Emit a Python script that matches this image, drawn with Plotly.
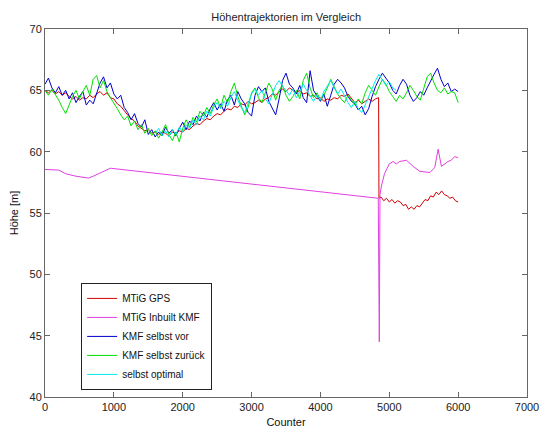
import plotly.graph_objects as go

# ---------------- data ----------------
step_x = list(range(0, 6001, 50))

kmf_vor = [65.5, 66.0, 65.2, 64.8, 65.3, 64.6, 65.0, 64.3, 64.8, 64.0,
           64.5, 64.9, 63.8, 64.2, 63.9, 64.8, 65.6, 66.1, 65.2, 65.6,
           64.7, 64.3, 64.6, 63.6, 63.2, 62.6, 63.1, 62.3, 62.0, 62.6,
           61.4, 61.8, 61.2, 61.6, 61.3, 62.0, 61.5, 61.8, 61.3, 61.9,
           62.4, 61.8, 62.5, 62.2, 62.9, 62.5, 63.2, 62.8, 63.5, 64.0,
           63.4, 63.9, 63.3, 64.2, 64.6, 63.8, 64.9, 64.3, 63.9, 63.2,
           62.9, 64.6, 65.3, 64.9, 65.2, 64.1, 63.6, 63.0, 64.3, 65.8,
           66.4, 65.5, 65.2, 64.7, 65.4, 64.4, 64.0, 66.6, 65.0, 64.5,
           64.1, 64.7, 63.7, 64.6, 65.5, 65.9, 65.6, 65.2, 64.5, 64.1,
           63.9, 63.4, 63.7, 63.0, 63.5, 64.5, 65.3, 65.9, 66.4, 66.0,
           65.6, 65.0, 64.7, 65.4, 65.9, 65.5, 64.6, 64.1, 64.4, 64.9,
           64.6, 65.2, 65.8, 66.3, 66.8, 65.9, 65.3, 65.6, 64.9, 65.1,
           64.9]

kmf_zurueck = [65.0, 64.6, 65.1, 64.7, 64.2, 63.6, 63.1, 63.8, 64.5, 65.0,
               64.3, 64.9, 65.4, 64.6, 65.9, 66.2, 65.2, 65.8, 64.9, 64.4,
               64.0, 63.5, 63.0, 62.6, 62.9, 62.1, 62.5, 61.8, 62.2, 61.5,
               61.9, 61.3, 61.7, 61.1, 61.6, 62.2, 61.4, 60.9, 61.6, 60.8,
               61.9, 62.6, 62.0, 62.8, 62.4, 63.3, 62.9, 63.6, 63.1, 63.8,
               64.3, 63.6, 64.6, 64.0, 64.9, 65.6, 64.5, 63.8, 63.0, 63.6,
               64.8, 65.2, 64.4, 64.0, 64.9, 65.6, 65.1, 64.2, 65.0, 65.4,
               64.6, 64.1, 64.5, 65.0, 64.3, 65.8, 66.4, 65.2, 64.4, 64.8,
               64.2, 64.6, 65.2, 65.9, 65.3, 64.7, 64.3, 64.0, 64.6, 64.2,
               63.8, 64.3, 63.9, 64.8, 65.4, 65.0, 64.6, 65.3, 65.9, 65.5,
               64.9, 64.5, 64.1, 64.6, 64.3, 64.8, 65.4, 65.0, 64.5, 64.2,
               65.1, 66.1, 66.4, 65.6, 65.0, 64.8, 65.2, 64.7, 64.9, 64.8,
               64.0]

opt_x = list(range(1600, 5101, 50))
opt_y = [61.5, 61.9, 61.3, 61.7, 61.2, 61.8, 61.4, 62.0, 61.6, 62.2,
         61.9, 62.6, 62.2, 62.9, 62.6, 63.3, 62.9, 63.6, 64.0, 63.5,
         64.1, 63.7, 64.4, 64.9, 64.2, 63.6, 63.2, 64.0, 64.7, 65.1,
         64.6, 65.0, 64.3, 63.9, 64.6, 65.4, 65.8, 65.3, 65.0, 64.6,
         65.1, 64.4, 64.9, 65.5, 65.0, 64.5, 64.1, 64.6, 64.2, 64.9,
         65.4, 65.8, 65.2, 64.7, 65.1, 64.5, 64.0, 63.6, 64.1, 63.5,
         63.2, 63.8, 64.5, 65.2, 65.8, 66.3, 65.9, 65.4, 65.7, 65.2,
         65.0]

gps_x = list(range(0, 4801, 50)) + [4845, 4850, 4880, 4920, 4960, 5000, 5040,
         5080, 5120, 5160, 5200, 5240, 5280, 5320, 5360, 5400, 5440, 5480,
         5520, 5560, 5600, 5640, 5680, 5720, 5760, 5800, 5840, 5880, 5920,
         5960, 6000]
gps_y = [65.0, 64.8, 65.0, 64.7, 64.9, 64.6, 64.8, 64.5, 64.3, 64.5,
         64.2, 64.4, 64.3, 64.6, 64.4, 64.7, 64.9, 64.6, 64.8, 64.4,
         64.3, 63.9, 63.7, 63.3, 63.0, 62.7, 62.5, 62.1, 61.9, 61.7,
         61.8, 61.5, 61.6, 61.4, 61.6, 61.5, 61.3, 61.6, 61.5, 61.7,
         61.6, 61.9, 61.8, 62.1, 62.3, 62.2, 62.5, 62.7, 62.6, 62.9,
         63.1, 63.0, 63.3, 63.5, 63.4, 63.7, 63.6, 63.9, 63.8, 64.1,
         63.9, 64.0, 64.2, 64.0, 64.3, 64.4, 64.7, 64.6, 64.9, 65.1,
         64.9, 65.2, 65.0, 64.8, 65.0, 64.7, 64.8, 64.5, 64.6, 64.3,
         64.4, 64.1, 64.3, 64.2, 64.4, 64.3, 64.6, 64.5, 64.7, 64.3,
         64.0, 64.2, 63.9, 64.1, 64.3, 64.1, 64.3,
         64.4, 56.2, 56.3, 56.0, 56.2, 55.9, 56.1, 55.8, 56.0, 55.9,
         55.6, 55.7, 55.3, 55.5, 55.3, 55.6, 55.5, 55.8, 56.1, 56.0,
         56.4, 56.3, 56.7, 56.5, 56.8, 56.5, 56.4, 56.2, 56.3, 56.0,
         55.9]

inbuilt_x = [0, 200, 300, 450, 630, 700, 950, 4840, 4855, 4865,
             4886, 4930, 5000, 5055, 5100, 5150, 5250, 5346, 5443, 5588,
             5660, 5709, 5757, 5800, 5854, 5900, 5950, 6000]
inbuilt_y = [58.55, 58.5, 58.2, 58.0, 57.85, 58.0, 58.65, 56.2, 44.5, 56.5,
             57.2, 58.2, 59.0, 59.2, 59.0, 59.2, 59.3, 58.8, 58.4, 58.3,
             58.7, 60.2, 58.8, 59.0, 59.2, 59.3, 59.6, 59.5]

x_ticks = [0, 1000, 2000, 3000, 4000, 5000, 6000, 7000]
y_ticks = [40, 45, 50, 55, 60, 65, 70]

names = ["MTiG GPS", "MTiG Inbuilt KMF", "KMF selbst vor", "KMF selbst zurück", "selbst optimal"]
colors = ["#d00000", "#e040e0", "#0000cc", "#00e000", "#00e8e8"]

# ---------------- figure ----------------
fig = go.Figure()
series = [(gps_x, gps_y), (inbuilt_x, inbuilt_y), (step_x, kmf_vor),
          (step_x, kmf_zurueck), (opt_x, opt_y)]
for (xs, ys), n, c in zip(series, names, colors):
    fig.add_trace(go.Scatter(x=xs, y=ys, mode="lines", name=n,
                             line=dict(color=c, width=1)))

axis_common = dict(showgrid=False, zeroline=False, showline=True, linecolor="#666",
                   linewidth=1, mirror="ticks", ticks="inside", ticklen=5,
                   tickcolor="#666", tickfont=dict(size=11, color="#222"),
                   automargin=False)

fig.update_xaxes(range=[0, 7000], tickvals=x_ticks, **axis_common,
                 title=dict(text="Counter", font=dict(size=11, color="#111"), standoff=6))
fig.update_yaxes(range=[40, 70], tickvals=y_ticks, **axis_common,
                 title=dict(text="Höhe [m]", font=dict(size=11, color="#111"), standoff=8))

fig.update_layout(
    width=545, height=429,
    margin=dict(l=45, r=18, t=29, b=32),
    paper_bgcolor="white", plot_bgcolor="white",
    font=dict(family="Liberation Sans, Arial, sans-serif", size=11, color="#222"),
    title=dict(text="Höhentrajektorien im Vergleich", x=0.525, xanchor="center",
               y=0.96, yanchor="middle", font=dict(size=11, color="#222")),
    legend=dict(x=0.075, y=0.31, xanchor="left", yanchor="top",
                bgcolor="white", bordercolor="#222", borderwidth=1,
                font=dict(size=10, color="#111"), tracegroupgap=0,
                itemwidth=30),
    showlegend=True,
)

fig.write_html("out.html")
